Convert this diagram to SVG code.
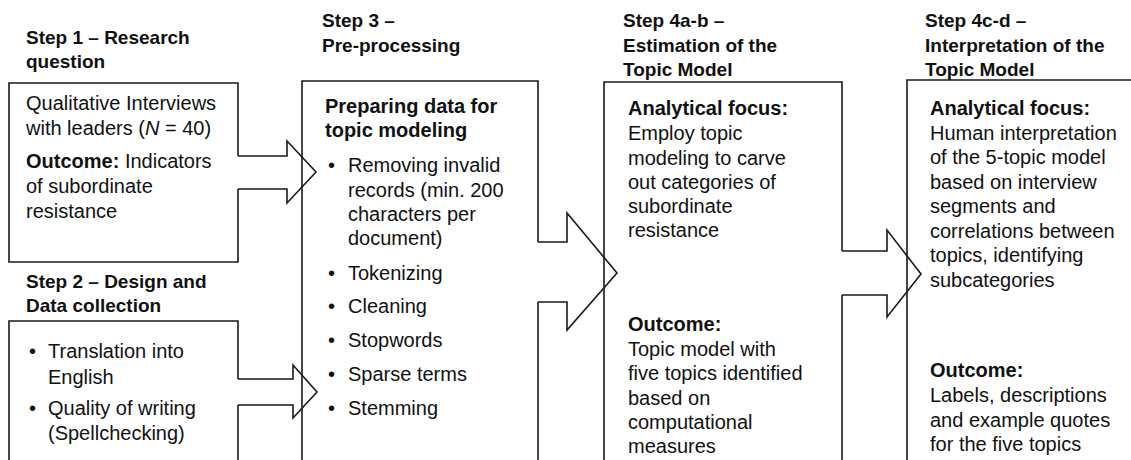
<svg xmlns="http://www.w3.org/2000/svg" width="1131" height="460" viewBox="0 0 1131 460">
<style>
text{font-family:"Liberation Sans",Arial,sans-serif;fill:#111}
.h{font-size:19px;font-weight:bold}
.t{font-size:20px}
.b{font-weight:bold}
.box{fill:none;stroke:#1a1a1a;stroke-width:1.6}
.arr{fill:none;stroke:#1a1a1a;stroke-width:1.6;stroke-linejoin:miter}
</style>
<rect width="1131" height="460" fill="#fff"/>
<g id="step1">
<text class="h" x="26" y="44">Step 1 – Research</text>
<text class="h" x="26" y="68">question</text>
<path class="box" d="M238,156 V83 H9 V262 H238 V189"/>
<text class="t" x="26" y="110">Qualitative Interviews</text>
<text class="t" x="26" y="135">with leaders (<tspan font-style="italic">N</tspan> = 40)</text>
<text class="t" x="26" y="168"><tspan class="b">Outcome:</tspan> Indicators</text>
<text class="t" x="26" y="193">of subordinate</text>
<text class="t" x="26" y="218">resistance</text>
</g>
<g id="step2">
<text class="h" x="26" y="288">Step 2 – Design and</text>
<text class="h" x="26" y="312">Data collection</text>
<path class="box" d="M238,379 V321 H9 V470 M238,405 V470"/>
<text class="t" x="29" y="358">•</text>
<text class="t" x="48" y="358">Translation into</text>
<text class="t" x="48" y="384">English</text>
<text class="t" x="29" y="415">•</text>
<text class="t" x="48" y="415">Quality of writing</text>
<text class="t" x="48" y="440">(Spellchecking)</text>
</g>
<g id="step3">
<text class="h" x="322" y="27">Step 3 –</text>
<text class="h" x="322" y="52">Pre-processing</text>
<path class="box" d="M538,242 V81 H302 V470 M538,302 V470"/>
<text class="t b" x="325" y="113">Preparing data for</text>
<text class="t b" x="325" y="137">topic modeling</text>
<text class="t" x="328" y="172">•</text>
<text class="t" x="348" y="172">Removing invalid</text>
<text class="t" x="348" y="197">records (min. 200</text>
<text class="t" x="348" y="221">characters per</text>
<text class="t" x="348" y="245">document)</text>
<text class="t" x="328" y="280">•</text>
<text class="t" x="348" y="280">Tokenizing</text>
<text class="t" x="328" y="313">•</text>
<text class="t" x="348" y="313">Cleaning</text>
<text class="t" x="328" y="347">•</text>
<text class="t" x="348" y="347">Stopwords</text>
<text class="t" x="328" y="381">•</text>
<text class="t" x="348" y="381">Sparse terms</text>
<text class="t" x="328" y="415">•</text>
<text class="t" x="348" y="415">Stemming</text>
</g>
<g id="step4ab">
<text class="h" x="623" y="27">Step 4a-b –</text>
<text class="h" x="623" y="52">Estimation of the</text>
<text class="h" x="623" y="76">Topic Model</text>
<path class="box" d="M842,251 V82 H604 V470 M842,295 V470"/>
<text class="t b" x="628" y="115">Analytical focus:</text>
<text class="t" x="628" y="140">Employ topic</text>
<text class="t" x="628" y="165">modeling to carve</text>
<text class="t" x="628" y="189">out categories of</text>
<text class="t" x="628" y="213">subordinate</text>
<text class="t" x="628" y="237">resistance</text>
<text class="t b" x="628" y="331">Outcome:</text>
<text class="t" x="628" y="356">Topic model with</text>
<text class="t" x="628" y="380">five topics identified</text>
<text class="t" x="628" y="405">based on</text>
<text class="t" x="628" y="429">computational</text>
<text class="t" x="628" y="453">measures</text>
</g>
<g id="step4cd">
<text class="h" x="925" y="27">Step 4c-d –</text>
<text class="h" x="925" y="52">Interpretation of the</text>
<text class="h" x="925" y="76">Topic Model</text>
<path class="box" d="M907,470 V80 H1140"/>
<text class="t b" x="930" y="115">Analytical focus:</text>
<text class="t" x="930" y="140">Human interpretation</text>
<text class="t" x="930" y="164">of the 5-topic model</text>
<text class="t" x="930" y="189">based on interview</text>
<text class="t" x="930" y="213">segments and</text>
<text class="t" x="930" y="238">correlations between</text>
<text class="t" x="930" y="262">topics, identifying</text>
<text class="t" x="930" y="287">subcategories</text>
<text class="t b" x="930" y="377">Outcome:</text>
<text class="t" x="930" y="402">Labels, descriptions</text>
<text class="t" x="930" y="427">and example quotes</text>
<text class="t" x="930" y="451">for the five topics</text>
</g>
<g id="connectors">
<polyline class="arr" points="238,156 287,156 287,141 316,172 287,203 287,189 238,189"/>
<polyline class="arr" points="238,379 293,379 293,365 317,392 293,418 293,405 238,405"/>
<polyline class="arr" points="538,242 567,242 567,213 617,273 567,330 567,302 538,302"/>
<polyline class="arr" points="842,251 887,251 887,230 921,274 887,317 887,295 842,295"/>
</g>
</svg>
